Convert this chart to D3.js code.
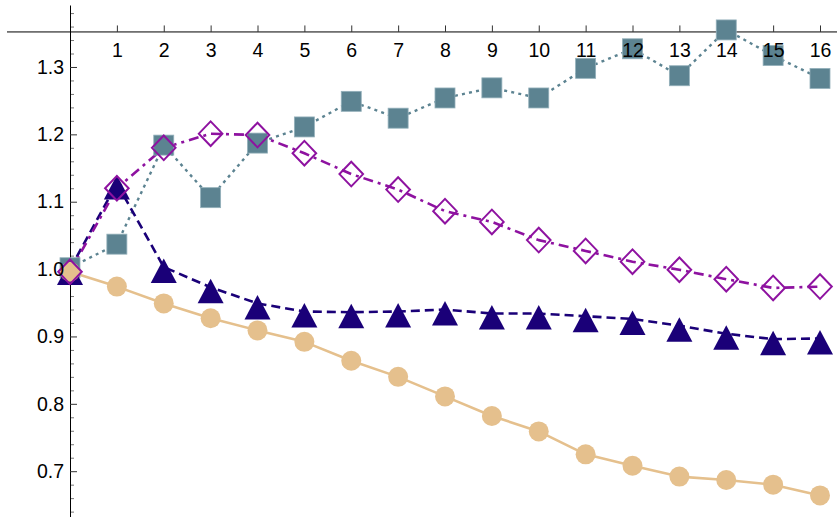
<!DOCTYPE html>
<html>
<head>
<meta charset="utf-8">
<script src="https://cdn.jsdelivr.net/npm/d3@7"></script>
<style>
  html, body { margin: 0; padding: 0; background: #fff; }
  svg { display: block; }
</style>
</head>
<body>
<svg id="chart" width="837" height="517"></svg>
<script>
// x positions 0..16
const steps = d3.range(0, 17);

// series values
const squareSeries   = [1.002, 1.037, 1.184, 1.106, 1.187, 1.211, 1.249, 1.224, 1.254, 1.269, 1.254, 1.298, 1.327, 1.287, 1.355, 1.317, 1.283];
const diamondSeries  = [0.996, 1.120, 1.180, 1.201, 1.199, 1.172, 1.141, 1.118, 1.086, 1.070, 1.043, 1.027, 1.011, 0.999, 0.985, 0.972, 0.974];
const triangleSeries = [1.000, 1.127, 1.003, 0.973, 0.949, 0.937, 0.936, 0.937, 0.940, 0.934, 0.934, 0.930, 0.926, 0.916, 0.904, 0.896, 0.897];
const circleSeries   = [0.996, 0.974, 0.949, 0.927, 0.909, 0.892, 0.864, 0.840, 0.811, 0.782, 0.759, 0.725, 0.708, 0.692, 0.687, 0.680, 0.664];

// tick labels
const xTickValues = d3.range(1, 17);
const yTickValues = [0.7, 0.8, 0.9, 1.0, 1.1, 1.2, 1.3];
const yMinorValues = d3.range(64, 139, 2).map(v => v / 100).filter(v => !yTickValues.some(t => Math.abs(t - v) < 1e-9));
const xAxisCrossing = 1.352;

const svg = d3.select("#chart");
const W = 837, H = 517;
const labelFont = '"Liberation Sans", Arial, sans-serif';
const labelSize = 19.5;

const x = d3.scaleLinear().domain([0, 16]).range([70, 820]);
const y = d3.scaleLinear().domain([0.632, 1.392]).range([517, 5]);

const axisY = x(0);
const axisX = y(xAxisCrossing);

// ---- axis lines and ticks ----
const axesLayer = svg.append("g");

// horizontal axis line across the plot
axesLayer.append("line")
  .attr("x1", 7).attr("x2", W)
  .attr("y1", axisX).attr("y2", axisX)
  .attr("stroke", "#000").attr("stroke-width", 1);

const xTicks = axesLayer.append("g")
  .attr("transform", `translate(0,${axisX})`)
  .call(d3.axisBottom(x).tickValues(xTickValues).tickSizeInner(-6.5).tickSizeOuter(0).tickFormat(""));
xTicks.select(".domain").remove();
xTicks.selectAll(".tick line").attr("stroke", "#333");

// minor y ticks
const yMinor = axesLayer.append("g")
  .attr("transform", `translate(${axisY},0)`)
  .call(d3.axisLeft(y).tickValues(yMinorValues).tickSizeInner(-4).tickSizeOuter(0).tickFormat(""));
yMinor.select(".domain").remove();
yMinor.selectAll(".tick line").attr("stroke", "#777");

// major y ticks + axis line
const yMajor = axesLayer.append("g")
  .attr("transform", `translate(${axisY},0)`)
  .call(d3.axisLeft(y).tickValues(yTickValues).tickSizeInner(-7).tickSizeOuter(0).tickFormat(""));
yMajor.select(".domain").attr("stroke", "#000");
yMajor.selectAll(".tick line").attr("stroke", "#333");

// ---- series ----
const series = [
  { name: "squares",   values: squareSeries,   color: "#5c8391", dash: "3,4.2",      width: 2.4 },
  { name: "triangles", values: triangleSeries, color: "#1a0078", dash: "9,5",        width: 2.6 },
  { name: "circles",   values: circleSeries,   color: "#e5c08d", dash: null,         width: 2.6 },
  { name: "diamonds",  values: diamondSeries,  color: "#8e12a0", dash: "10,5,3,5",   width: 2.6 }
];

const line = d3.line().x((d, i) => x(steps[i])).y(d => y(d));

const lineLayer = svg.append("g");
series.forEach(s => {
  lineLayer.append("path")
    .datum(s.values)
    .attr("d", line)
    .attr("fill", "none")
    .attr("stroke", s.color)
    .attr("stroke-width", s.width)
    .attr("stroke-dasharray", s.dash)
    .attr("stroke-linejoin", "round");
});

const markerLayer = svg.append("g");
const pts = vals => vals.map((v, i) => ({ cx: x(steps[i]), cy: y(v) }));

// squares
markerLayer.append("g").selectAll("rect")
  .data(pts(squareSeries)).join("rect")
  .attr("x", d => d.cx - 10).attr("y", d => d.cy - 10)
  .attr("width", 20).attr("height", 20)
  .attr("fill", "#5c8391")
  .attr("stroke", "#93b0ba").attr("stroke-width", 0.8);

// triangles
markerLayer.append("g").selectAll("path")
  .data(pts(triangleSeries)).join("path")
  .attr("d", d => `M${d.cx},${d.cy - 8.5}L${d.cx + 13},${d.cy + 16}L${d.cx - 13},${d.cy + 16}Z`)
  .attr("fill", "#1a0078");

// circles
markerLayer.append("g").selectAll("circle")
  .data(pts(circleSeries)).join("circle")
  .attr("cx", d => d.cx).attr("cy", d => d.cy).attr("r", 10)
  .attr("fill", "#e5c08d");

// diamonds (outlined)
markerLayer.append("g").selectAll("path")
  .data(pts(diamondSeries)).join("path")
  .attr("d", d => `M${d.cx},${d.cy - 12.3}L${d.cx + 11.8},${d.cy}L${d.cx},${d.cy + 12.3}L${d.cx - 11.8},${d.cy}Z`)
  .attr("fill", "none")
  .attr("stroke", "#8e12a0")
  .attr("stroke-width", 2);

// ---- tick labels on top ----
const xLabels = svg.append("g")
  .attr("transform", `translate(0,${axisX})`)
  .call(d3.axisBottom(x).tickValues(xTickValues).tickSize(0).tickPadding(11.5).tickFormat(d3.format("d")));
xLabels.select(".domain").remove();

const yLabels = svg.append("g")
  .attr("transform", `translate(${axisY},0)`)
  .call(d3.axisLeft(y).tickValues(yTickValues).tickSize(0).tickPadding(6).tickFormat(d3.format(".1f")));
yLabels.select(".domain").remove();

[xLabels, yLabels].forEach(g => {
  g.attr("font-family", labelFont).attr("font-size", labelSize);
  g.selectAll("text")
    .attr("fill", "#000")
    .style("font-family", labelFont)
    .style("font-size", labelSize + "px");
});
</script>
</body>
</html>
